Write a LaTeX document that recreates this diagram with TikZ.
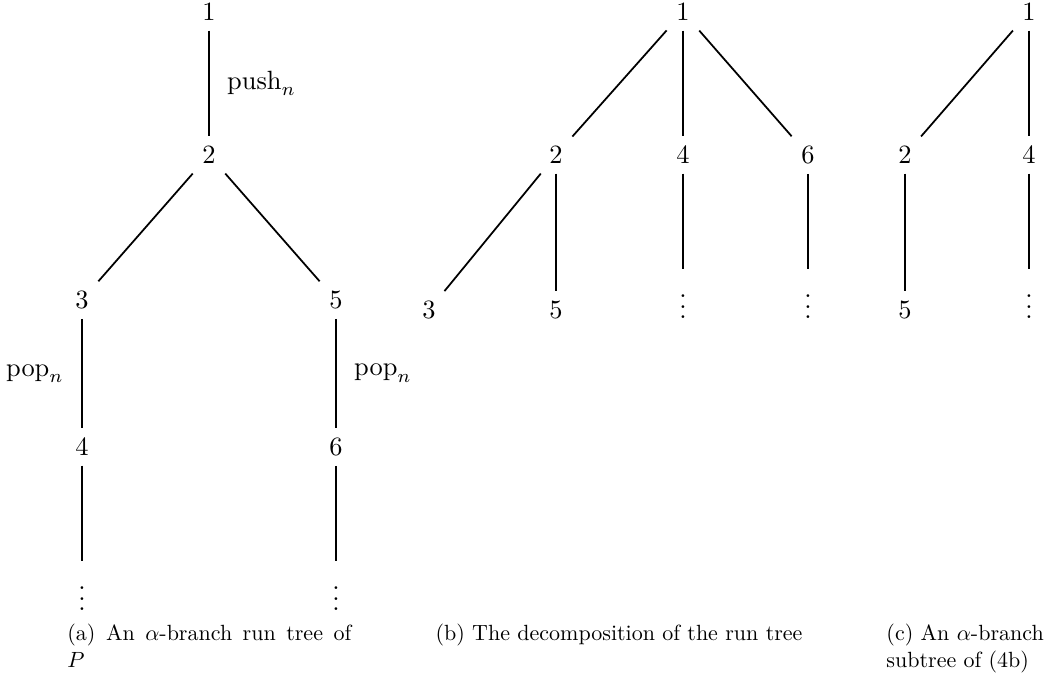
\documentclass[tikz,border=0pt]{standalone}
\begin{document}
\begin{tikzpicture}[x=0.4545pt,y=-0.4545pt,
  n/.style={scale=1.2, inner sep=3.5pt},
  edge/.style={thick},
  lab/.style={scale=1.2, inner sep=6.5pt},
  captionbox/.style={inner sep=0pt, anchor=north west, align=justify}]
\useasboundingbox (0,0) rectangle (1049,673);
% (a)
\node[n] (A1) at (209,12) {1};
\node[n] (A2) at (209,155) {2};
\node[n] (A3) at (82,300) {3};
\node[n] (A5) at (336,300) {5};
\node[n] (A4) at (82,447) {4};
\node[n] (A6) at (336,447) {6};
\node[n] (Ad1) at (82,591) {$\vdots$};
\node[n] (Ad2) at (336,591) {$\vdots$};
\draw[edge] (A1) -- node[lab,right] {$\mathrm{push}_n$} (A2);
\draw[edge] (A2) -- (A3);
\draw[edge] (A2) -- (A5);
\draw[edge] (A3) -- node[lab,left] {$\mathrm{pop}_n$} (A4);
\draw[edge] (A5) -- node[lab,right] {$\mathrm{pop}_n$} (A6);
\draw[edge] (A4) -- (Ad1);
\draw[edge] (A6) -- (Ad2);
% (b)
\node[n] (B1) at (683,12) {1};
\node[n] (B2) at (556,155) {2};
\node[n] (B4) at (683,155) {4};
\node[n] (B6) at (808,155) {6};
\node[n] (B3) at (429,310) {3};
\node[n] (B5) at (556,310) {5};
\node[n] (Bd4) at (683,299) {$\vdots$};
\node[n] (Bd6) at (808,299) {$\vdots$};
\draw[edge] (B1) -- (B2);
\draw[edge] (B1) -- (B4);
\draw[edge] (B1) -- (B6);
\draw[edge] (B2) -- (B3);
\draw[edge] (B2) -- (B5);
\draw[edge] (B4) -- (Bd4);
\draw[edge] (B6) -- (Bd6);
% (c)
\node[n] (C1) at (1029,12) {1};
\node[n] (C2) at (905,155) {2};
\node[n] (C4) at (1029,155) {4};
\node[n] (C5) at (905,310) {5};
\node[n] (Cd4) at (1029,299) {$\vdots$};
\draw[edge] (C1) -- (C2);
\draw[edge] (C1) -- (C4);
\draw[edge] (C2) -- (C5);
\draw[edge] (C4) -- (Cd4);
% captions
\node[captionbox, text width=129pt] (capa) at (67,624) {(a) An $\alpha$-branch run tree of\linebreak $P$};
\node[inner sep=0pt, anchor=north] (capb) at (619,624) {(b) The decomposition of the run tree};
\node[captionbox, text width=71.5pt] (capc) at (886,624) {(c) An $\alpha$-branch subtree of (4b)};
\end{tikzpicture}
\end{document}
